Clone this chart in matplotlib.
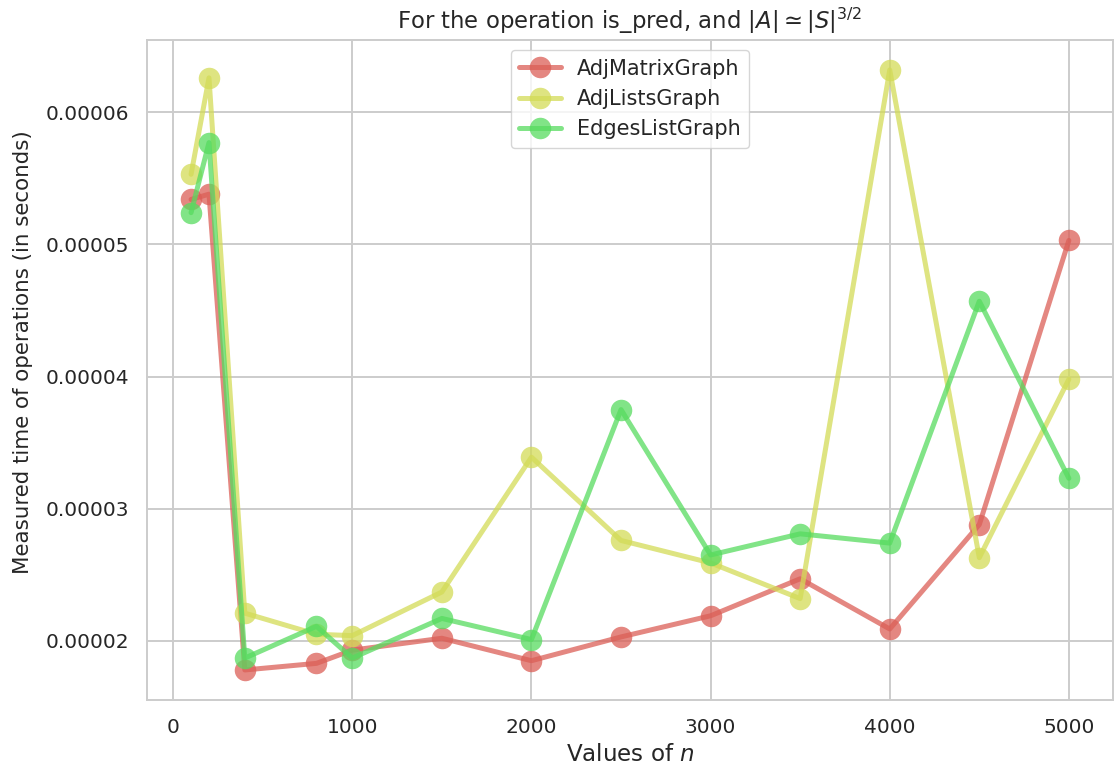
import numpy as np
import matplotlib
matplotlib.use("Agg")
import matplotlib.pyplot as plt
from matplotlib.ticker import FormatStrFormatter
import seaborn as sns

sizes = [100, 200, 400, 800, 1000, 1500, 2000, 2500, 3000, 3500, 4000, 4500, 5000]

adj_matrix = [5.34e-5, 5.38e-5, 1.78e-5, 1.83e-5, 1.93e-5, 2.02e-5, 1.85e-5,
              2.03e-5, 2.19e-5, 2.47e-5, 2.09e-5, 2.88e-5, 5.03e-5]
adj_lists = [5.53e-5, 6.26e-5, 2.21e-5, 2.05e-5, 2.04e-5, 2.37e-5, 3.39e-5,
             2.76e-5, 2.59e-5, 2.32e-5, 6.32e-5, 2.63e-5, 3.98e-5]
edges_list = [5.24e-5, 5.77e-5, 1.87e-5, 2.11e-5, 1.87e-5, 2.17e-5, 2.01e-5,
              3.75e-5, 2.65e-5, 2.81e-5, 2.74e-5, 4.57e-5, 3.23e-5]

labels = ["AdjMatrixGraph", "AdjListsGraph", "EdgesListGraph"]

sns.set_style("whitegrid")
plt.rcParams['font.family'] = ['DejaVu Sans']
plt.rcParams['grid.linewidth'] = 1.4
plt.rcParams['axes.linewidth'] = 1.4
colors = sns.color_palette("hls", 6)

fig = plt.figure(figsize=(11.15, 7.72), dpi=100)
ax = fig.add_axes([0.132, 0.0933, 0.866, 0.855])

for ys, lab, c in zip([adj_matrix, adj_lists, edges_list], labels, colors[:3]):
    ax.plot(sizes, ys, 'o-', color=c, label=lab, alpha=0.75,
            linewidth=3.6, markersize=15.5, markeredgewidth=0)

ax.yaxis.set_major_formatter(FormatStrFormatter('%.5f'))
ax.set_title(r"For the operation is_pred, and $|A| \simeq |S|^{3/2}$",
             fontsize=16.4, color='.15', pad=8)
ax.set_xlabel(r"Values of $n$", fontsize=16.6, color='.15')
ax.set_ylabel("Measured time of operations (in seconds)", fontsize=15.4, color='.15')
ax.yaxis.set_label_coords(-0.118, 0.527)
ax.tick_params(labelsize=14.5, colors='.15', pad=9.5)
ax.legend(loc='upper center', fontsize=15)

fig.savefig("out.png", dpi=100)
